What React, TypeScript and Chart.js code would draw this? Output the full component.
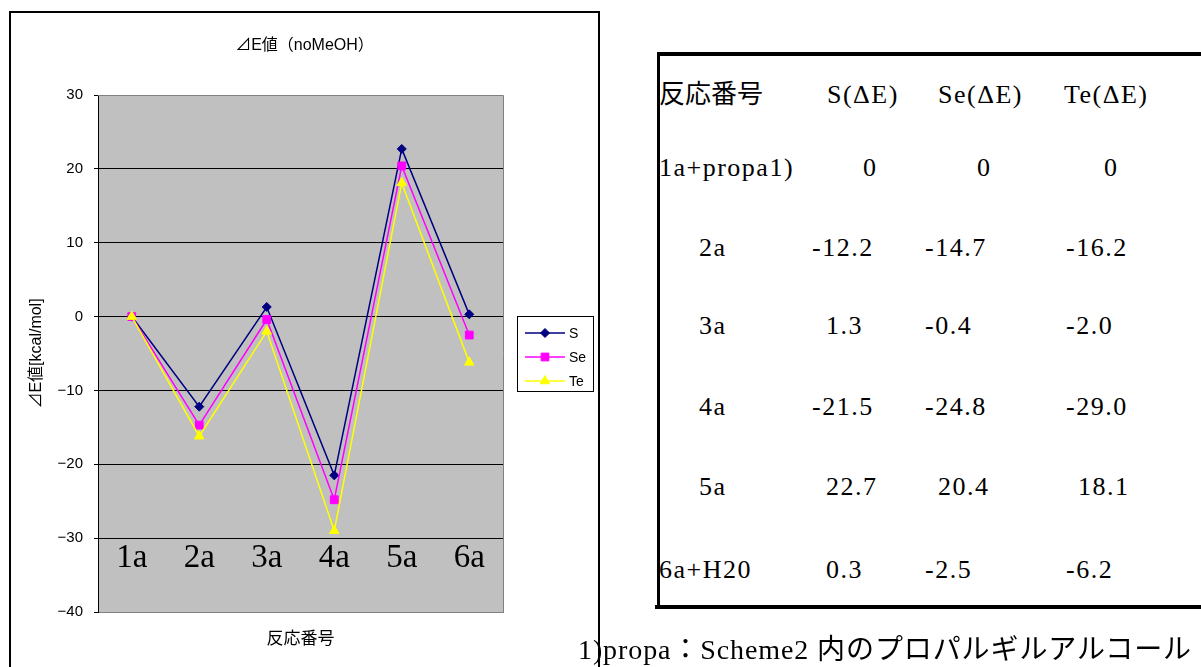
import React, { useEffect, useRef } from 'react';
import { Chart, registerables } from 'chart.js';

Chart.register(...registerables);

// ---- data ----
const categories = ['1a', '2a', '3a', '4a', '5a', '6a'];
const seriesNames = ['S', 'Se', 'Te'];
const sValues = [0, -12.2, 1.3, -21.5, 22.7, 0.3];
const seValues = [0, -14.7, -0.4, -24.8, 20.4, -2.5];
const teValues = [0, -16.2, -2.0, -29.0, 18.1, -6.2];
const yTickValues = [30, 20, 10, 0, -10, -20, -30, -40];
const chartTitle = '⊿E値（noMeOH）';
const yTitle = '⊿E値[kcal/mol]';
const xTitle = '反応番号';

const tableHeader = ['反応番号', 'S(ΔE)', 'Se(ΔE)', 'Te(ΔE)'];
const tableRowLabels = ['1a+propa1)', '2a', '3a', '4a', '5a', '6a+H20'];
const footnote = '1)propa：Scheme2 内のプロパルギルアルコール';

// ---- styles / layout (not data) ----
const seriesColors = ['#000080', '#FF00FF', '#FFFF00'];
const seriesPoint = ['rectRot', 'rect', 'triangle'];
const seriesRadius = [4.5, 5.5, 5.5];
const SANS = '"Liberation Sans", "Noto Sans CJK JP", sans-serif';
const SERIF = '"Liberation Serif", "Noto Sans CJK JP", serif';

const rowCenters = [95, 168, 248, 326, 407, 487, 570];
const cellLefts = [
  [659, 827, 938, 1064],
  [659, 863, 977, 1104],
  [699, 812, 925, 1066],
  [699, 826, 925, 1066],
  [699, 812, 925, 1066],
  [699, 826, 938, 1078],
  [659, 826, 925, 1066],
];

const fmt = (v: number) => (v === 0 ? '0' : v.toFixed(1));

function drawMarker(ctx: CanvasRenderingContext2D, style: string, x: number, y: number, r: number) {
  ctx.beginPath();
  if (style === 'rectRot') {
    ctx.moveTo(x, y - r);
    ctx.lineTo(x + r, y);
    ctx.lineTo(x, y + r);
    ctx.lineTo(x - r, y);
  } else if (style === 'rect') {
    const s = r * Math.SQRT1_2;
    ctx.rect(x - s, y - s, 2 * s, 2 * s);
  } else {
    ctx.moveTo(x, y - r);
    ctx.lineTo(x + r * 0.866, y + r * 0.5);
    ctx.lineTo(x - r * 0.866, y + r * 0.5);
  }
  ctx.closePath();
  ctx.fill();
  ctx.stroke();
}

const decorPlugin = {
  id: 'decor',
  beforeDraw(chart: any) {
    const { ctx, chartArea: a } = chart;
    ctx.save();
    ctx.fillStyle = '#C0C0C0';
    ctx.fillRect(a.left, a.top, a.right - a.left, a.bottom - a.top);
    ctx.restore();
  },
  afterDraw(chart: any) {
    const { ctx, chartArea: a, scales } = chart;
    ctx.save();
    // grey top / right plot border
    ctx.strokeStyle = '#808080';
    ctx.lineWidth = 1;
    ctx.beginPath();
    ctx.moveTo(a.left, Math.round(a.top) + 0.5);
    ctx.lineTo(Math.round(a.right) + 0.5, Math.round(a.top) + 0.5);
    ctx.lineTo(Math.round(a.right) + 0.5, Math.round(a.bottom));
    ctx.stroke();

    // category labels inside the plot
    ctx.fillStyle = '#000';
    ctx.font = '33px "Liberation Serif", serif';
    ctx.textAlign = 'center';
    ctx.textBaseline = 'middle';
    categories.forEach((c, i) => {
      ctx.fillText(c, scales.x.getPixelForValue(i), scales.y.getPixelForValue(-32.8));
    });

    // title
    ctx.font = '16px ' + SANS;
    ctx.fillText(chartTitle, chart.width / 2, 33);

    // legend
    const lw = 76, lh = 75;
    const lx = Math.round(a.right) + 14;
    const ly = Math.round((a.top + a.bottom) / 2 - lh / 2);
    ctx.fillStyle = '#fff';
    ctx.fillRect(lx, ly, lw, lh);
    ctx.strokeStyle = '#000';
    ctx.lineWidth = 1;
    ctx.strokeRect(lx + 0.5, ly + 0.5, lw, lh);
    chart.data.datasets.forEach((ds: any, i: number) => {
      const y = ly + 17 + i * 24;
      ctx.strokeStyle = ds.borderColor;
      ctx.lineWidth = 1.5;
      ctx.beginPath();
      ctx.moveTo(lx + 8, y);
      ctx.lineTo(lx + 48, y);
      ctx.stroke();
      ctx.fillStyle = ds.backgroundColor;
      ctx.lineWidth = 1;
      drawMarker(ctx, seriesPoint[i], lx + 28, y, seriesRadius[i]);
      ctx.fillStyle = '#000';
      ctx.font = '14px ' + SANS;
      ctx.textAlign = 'left';
      ctx.textBaseline = 'middle';
      ctx.fillText(ds.label, lx + 52, y + 1);
    });
    ctx.restore();
  },
};

export default function App() {
  const canvasRef = useRef<HTMLCanvasElement | null>(null);

  useEffect(() => {
    if (!canvasRef.current) return;
    const allSeries = [sValues, seValues, teValues];
    const chart = new Chart(canvasRef.current, {
      type: 'line',
      data: {
        labels: categories,
        datasets: allSeries.map((d, i) => ({
          label: seriesNames[i],
          data: d,
          borderColor: seriesColors[i],
          backgroundColor: seriesColors[i],
          borderWidth: 1.5,
          pointStyle: seriesPoint[i] as any,
          pointRadius: seriesRadius[i],
          pointBorderWidth: 1,
          pointBorderColor: seriesColors[i],
          pointBackgroundColor: seriesColors[i],
          tension: 0,
          order: 3 - i,
        })),
      },
      options: {
        animation: false,
        responsive: false,
        maintainAspectRatio: false,
        layout: { padding: { left: 13, right: 96, top: 82, bottom: 0 } },
        plugins: {
          legend: { display: false },
          title: { display: false },
          tooltip: { enabled: false },
        },
        scales: {
          x: {
            type: 'category',
            offset: true,
            grid: { display: false },
            border: { display: true, color: '#808080', width: 1 },
            ticks: { display: false },
            title: {
              display: true,
              text: xTitle,
              color: '#000',
              font: { family: SANS, size: 17 },
              padding: { top: 0, bottom: 17 },
            },
            afterFit: (s: any) => {
              s.height = 55;
            },
          },
          y: {
            min: -40,
            max: 30,
            afterBuildTicks: (s: any) => {
              s.ticks = yTickValues.map((v) => ({ value: v }));
            },
            ticks: {
              color: '#000',
              font: { family: SANS, size: 15 },
              padding: 11,
              callback: (v: any) => String(v).replace('-', '−'),
            },
            grid: {
              color: (c: any) =>
                c.tick && (c.tick.value === 30 || c.tick.value === -40) ? '#808080' : '#000',
              tickColor: '#000',
              tickLength: 4,
              lineWidth: 1,
            },
            border: { display: true, color: '#000', width: 1 },
            title: {
              display: true,
              text: yTitle,
              color: '#000',
              font: { family: SANS, size: 16 },
              padding: 4,
            },
            afterFit: (s: any) => {
              s.width = 75;
            },
          },
        },
      },
      plugins: [decorPlugin],
    });
    return () => chart.destroy();
  }, []);

  const rows: string[][] = [tableHeader];
  tableRowLabels.forEach((lab, i) => {
    rows.push([lab, fmt(sValues[i]), fmt(seValues[i]), fmt(teValues[i])]);
  });

  return (
    <div
      style={{
        position: 'fixed',
        left: 0,
        top: 0,
        width: 1201,
        height: 667,
        overflow: 'hidden',
        background: '#fff',
      }}
    >
      <canvas
        ref={canvasRef}
        width={589}
        height={654}
        style={{ position: 'absolute', left: 10, top: 13, width: 589, height: 654 }}
      />
      {/* footnote */}
      <div
        style={{
          position: 'absolute',
          left: 578,
          top: 650 - 18,
          height: 36,
          lineHeight: '36px',
          fontFamily: SERIF,
          fontSize: 28,
          letterSpacing: 0.9,
          color: '#000',
          whiteSpace: 'nowrap',
        }}
      >
        {footnote}
      </div>
      {/* chart frame */}
      <div
        style={{
          position: 'absolute',
          left: 9,
          top: 11,
          width: 587,
          height: 700,
          border: '2px solid #000',
          pointerEvents: 'none',
        }}
      />
      {/* table borders */}
      <div style={{ position: 'absolute', left: 657, top: 52, width: 544, height: 4, background: '#000' }} />
      <div style={{ position: 'absolute', left: 657, top: 52, width: 3, height: 556, background: '#000' }} />
      <div style={{ position: 'absolute', left: 655, top: 605, width: 546, height: 4, background: '#000' }} />
      {/* table text */}
      {rows.map((r, ri) =>
        r.map((t, ci) => (
          <div
            key={ri + '-' + ci}
            style={{
              position: 'absolute',
              left: cellLefts[ri][ci],
              top: rowCenters[ri] - 16,
              height: 32,
              lineHeight: '32px',
              fontFamily: SERIF,
              fontSize: 26,
              letterSpacing: ri === 0 && ci === 0 ? 0 : 1.5,
              color: '#000',
              whiteSpace: 'nowrap',
            }}
          >
            {t}
          </div>
        ))
      )}
    </div>
  );
}
